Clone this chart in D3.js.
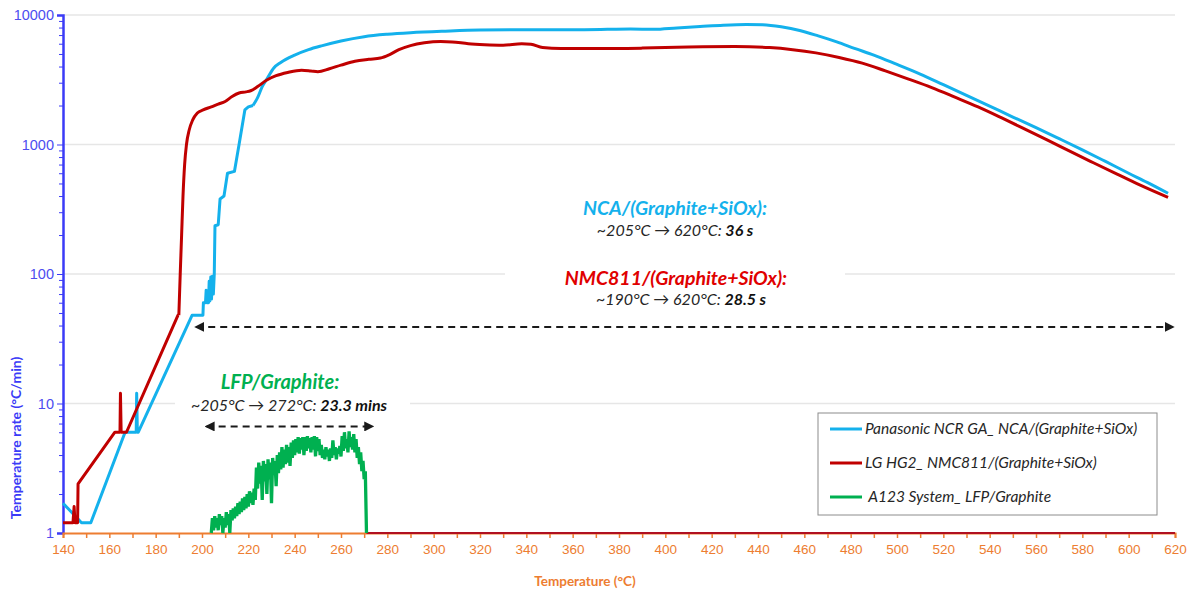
<!DOCTYPE html>
<html lang="en">
  <head>
    <meta charset="UTF-8" />
    <title>Temperature rate vs temperature</title>
    <script src="https://d3js.org/d3.v7.min.js"></script>
    <style>
      body { margin: 0; background: #fff; }
      svg { font-family: Lato, 'Open Sans', sans-serif; }
      .axis-y path, .axis-y line { stroke: #3b3bf7; }
      .axis-y text { fill: #4d4df0; font-size: 14.5px; }
      .axis-x path { stroke: #ed7d31; }
      .axis-x line { stroke: #ed7d31; }
      .axis-x text { fill: #ed7d31; font-size: 13.5px; }
    </style>
  </head>
  <body>
    <div id="chart"></div>
    <script>
      // tick values
      const xTicks = d3.range(140, 621, 20);
      const yTicks = [1, 10, 100, 1000, 10000];

      // Panasonic NCR GA  NCA/(Graphite+SiOx)  [temperature, rate]
      const ncaData = [
        [140, 1.7], [148, 1.2], [152, 1.2], [166.8, 6], [171.6, 6], [171.8, 12],
        [172.1, 6], [172.5, 6], [195.7, 48], [200.4, 48], [200.6, 60], [201.5, 60],
        [201.8, 75], [202.1, 60], [202.8, 60], [203.1, 88], [203.4, 62], [203.8, 95],
        [204.1, 64], [204.5, 96], [204.9, 70], [205.3, 100], [205.6, 236], [207, 240],
        [207.8, 380], [209.5, 400], [211, 600], [214, 620], [216, 1000], [218.5, 1850],
        [220, 1950], [222, 2000], [224, 2300], [226, 2800], [228, 3200], [231, 3900],
        [234, 4300], [240, 4900], [246, 5400], [252, 5800], [260, 6300], [270, 6800],
        [280, 7100], [290, 7300], [305, 7500], [320, 7650], [340, 7700], [360, 7700],
        [375, 7750], [385, 7800], [395, 7750], [405, 7950], [415, 8150], [425, 8350],
        [435, 8450], [442, 8400], [450, 8100], [458, 7600], [466, 6900], [474, 6200],
        [482, 5500], [490, 4900], [500, 4150], [510, 3500], [520, 2900], [530, 2400],
        [540, 1980], [550, 1630], [560, 1350], [570, 1110], [580, 910], [590, 740],
        [600, 600], [608, 510], [617, 420]
      ];

      // LG HG2  NMC811/(Graphite+SiOx)
      const nmcData = [
        [140, 1.2], [144.3, 1.2], [144.8, 1.6], [145.2, 1.2], [146.3, 1.2], [146.5, 2.4],
        [162.4, 6], [164.6, 6], [164.8, 12], [165.1, 6], [167.4, 6], [189.6, 48],
        [190, 48], [190.6, 100], [191.2, 200], [191.8, 400], [192.5, 700], [193.3, 1000],
        [194.5, 1300], [196, 1550], [198, 1750], [200.5, 1850], [204, 1950], [207, 2050],
        [210, 2150], [213, 2350], [216, 2500], [219, 2550], [221, 2600], [224, 2800],
        [228, 3150], [232, 3400], [237, 3600], [243, 3750], [247, 3700], [250, 3650],
        [255, 3850], [260, 4100], [266, 4400], [272, 4550], [277, 4650], [281, 4950],
        [285, 5400], [290, 5800], [296, 6100], [303, 6250], [308, 6200], [315, 6000],
        [322, 5900], [330, 5850], [338, 6000], [342, 5950], [347, 5600], [355, 5500],
        [370, 5500], [390, 5550], [410, 5650], [430, 5700], [445, 5600], [455, 5400],
        [465, 5100], [475, 4700], [485, 4250], [495, 3700], [505, 3200], [515, 2750],
        [525, 2320], [535, 1950], [545, 1610], [555, 1320], [565, 1080], [575, 880],
        [585, 720], [595, 590], [605, 485], [617, 390]
      ];
      // the same cell sits on the floor after the test
      const nmcFloor = [[271, 1], [620, 1]];

      // A123 System  LFP/Graphite (noisy)
      const lfpData = [
        [204, 1], [204.5, 1.3], [205, 1.05], [205.5, 1.35], [206, 1.1], [206.5, 1.3],
        [207, 1.05], [207.5, 1.4], [208, 1.15], [208.5, 1.35], [209, 1], [209.5, 1.3],
        [210, 1.1], [210.5, 1.45], [211, 1.15], [211.5, 1.4], [212, 1], [212.5, 1.5],
        [213, 1.25], [213.5, 1.55], [214, 1.3], [214.5, 1.6], [215, 1.35], [215.5, 1.7],
        [216, 1.4], [216.5, 1.75], [217, 1.45], [217.5, 1.85], [218, 1.5], [218.5, 1.9],
        [219, 1.55], [219.5, 2], [220, 1.6], [220.5, 2.1], [221, 1.7], [221.5, 2.05],
        [222, 1.65], [222.5, 2.2], [223, 1.8], [223.5, 3.2], [224, 2.2], [224.5, 3.5],
        [225, 2.4], [225.5, 3.3], [226, 1.8], [226.5, 3.6], [227, 2.5], [227.5, 3.4],
        [228, 2], [228.5, 3.7], [229, 2.6], [229.5, 3.5], [230, 1.7], [230.5, 3.8],
        [231, 2.8], [231.5, 3.6], [232, 2.3], [232.5, 4], [233, 2.9], [233.5, 4.2],
        [234, 3.1], [234.5, 4.6], [235, 3.2], [235.5, 4.4], [236, 3.4], [236.5, 4.8],
        [237, 3.5], [237.5, 4.6], [238, 3.3], [238.5, 5], [239, 3.8], [239.5, 5.2],
        [240, 4], [240.5, 5.3], [241, 4.2], [241.5, 5.5], [242, 4.1], [242.5, 5.4],
        [243, 4.4], [243.5, 5.5], [244, 4], [244.5, 5.5], [245, 4.3], [245.5, 5.6],
        [246, 4.5], [246.5, 5.4], [247, 4.2], [247.5, 5.5], [248, 4.4], [248.5, 5.6],
        [249, 3.9], [249.5, 5.5], [250, 4.3], [250.5, 5.3], [251, 4], [251.5, 4.8],
        [252, 3.8], [252.5, 4.4], [253, 3.7], [253.5, 4.6], [254, 3.9], [254.5, 4.4],
        [255, 3.6], [255.5, 4.5], [256, 3.8], [256.5, 5.2], [257, 4], [257.5, 4.6],
        [258, 3.7], [258.5, 4.5], [259, 4.1], [259.5, 4.7], [260, 3.9], [260.5, 5.6],
        [261, 4.3], [261.5, 6], [262, 4.5], [262.5, 5.3], [263, 4.2], [263.5, 6.1],
        [264, 4.6], [264.5, 5.5], [265, 4.4], [265.5, 5.8], [266, 4.2], [266.5, 5.3],
        [267, 3.8], [267.5, 4.6], [268, 3.4], [268.5, 4.2], [269, 3], [269.5, 3.6],
        [270, 2.6], [270.5, 3], [271, 1]
      ];

      const series = [
        { name: 'Panasonic NCR GA_ NCA/(Graphite+SiOx)', color: '#14b1ec', data: ncaData, knee: 222 },
        { name: 'LG HG2_ NMC811/(Graphite+SiOx)', color: '#c00000', data: nmcData, knee: 190 },
        { name: ' A123 System_ LFP/Graphite', color: '#00b050', data: lfpData }
      ];

      const W = 1195, H = 597;
      const margin = { top: 15, right: 20, bottom: 64, left: 63 };
      const width = W - margin.left - margin.right;
      const height = H - margin.top - margin.bottom;

      const svg = d3.select('#chart').append('svg')
        .attr('width', W).attr('height', H);
      const g = svg.append('g')
        .attr('transform', `translate(${margin.left},${margin.top})`);

      const x = d3.scaleLinear().domain([140, 620]).range([0, width]);
      const y = d3.scaleLog().domain([1, 10000]).range([height, 0]);

      // gridlines
      g.append('g').selectAll('line')
        .data(yTicks.slice(1))
        .enter().append('line')
        .attr('x1', 0).attr('x2', width)
        .attr('y1', d => y(d)).attr('y2', d => y(d))
        .attr('stroke', '#e6e6e6').attr('stroke-width', 1.5);

      // white boxes behind the annotation text (they hide the gridlines)
      g.append('rect').attr('x', 442).attr('y', 250).attr('width', 340).attr('height', 55).attr('fill', '#fff');
      g.append('rect').attr('x', 112).attr('y', 360).attr('width', 235).attr('height', 55).attr('fill', '#fff');

      // axes
      const minor = [];
      [1, 10, 100, 1000].forEach(d => { for (let k = 2; k < 10; k++) minor.push(d * k); });
      g.append('g').attr('class', 'axis-y')
        .call(d3.axisLeft(y).tickValues(minor).tickSize(4).tickFormat(''))
        .select('.domain').remove();
      g.append('g').attr('class', 'axis-y')
        .call(d3.axisLeft(y).tickValues(yTicks).tickSize(6).tickPadding(3).tickFormat(d3.format('d')))
        .select('.domain').attr('stroke-width', 2.5);

      const xAxis = g.append('g').attr('class', 'axis-x')
        .attr('transform', `translate(0,${height})`)
        .call(d3.axisBottom(x).tickValues(d3.range(140, 621, 10)).tickSize(5).tickPadding(6)
          .tickFormat(d => (xTicks.includes(d) ? d : '')));
      xAxis.select('.domain').attr('stroke-width', 2);
      xAxis.selectAll('.tick line').attr('stroke-width', 1.5)
        .attr('stroke', d => (d > 272 ? '#a5162a' : '#ed7d31'));

      // axis titles
      svg.append('text')
        .attr('x', 585).attr('y', 586)
        .attr('text-anchor', 'middle')
        .attr('fill', '#ed7d31').attr('font-size', 13.5).attr('font-weight', 'bold')
        .text('Temperature (°C)');
      svg.append('text')
        .attr('transform', 'translate(21,438) rotate(-90)')
        .attr('text-anchor', 'middle')
        .attr('fill', '#3b3bf7').attr('font-size', 14).attr('font-weight', 'bold')
        .text('Temperature rate (°C/min)');

      // lines
      const plot = g.append('g');
      const smooth = d3.line().x(d => x(d[0])).y(d => y(d[1])).curve(d3.curveMonotoneX);
      const straight = d3.line().x(d => x(d[0])).y(d => y(d[1]));

      plot.append('path').datum(nmcFloor)
        .attr('d', straight).attr('fill', 'none')
        .attr('stroke', '#b01020').attr('stroke-width', 2);
      plot.append('path').datum(lfpData)
        .attr('d', straight).attr('fill', 'none')
        .attr('stroke', '#00b050').attr('stroke-width', 3.3).attr('stroke-linejoin', 'miter');

      // stepped start is straight, the upper part is a smooth curve
      series.slice(0, 2).forEach(s => {
        const early = s.data.filter(d => d[0] <= s.knee);
        const late = s.data.filter(d => d[0] >= s.knee);
        plot.append('path').datum(early)
          .attr('d', straight).attr('fill', 'none')
          .attr('stroke', s.color).attr('stroke-width', 3).attr('stroke-linejoin', 'round');
        plot.append('path').datum(late)
          .attr('d', smooth).attr('fill', 'none')
          .attr('stroke', s.color).attr('stroke-width', 3).attr('stroke-linejoin', 'round');
      });

      // arrow markers
      const defs = svg.append('defs');
      defs.append('marker').attr('id', 'head')
        .attr('viewBox', '0 0 10 10').attr('refX', 8).attr('refY', 5)
        .attr('markerWidth', 5).attr('markerHeight', 5)
        .attr('orient', 'auto-start-reverse')
        .append('path').attr('d', 'M0,0 L10,5 L0,10 z').attr('fill', '#1a1a1a');

      function dashedArrow(t1, t2, v) {
        g.append('line')
          .attr('x1', x(t1)).attr('x2', x(t2))
          .attr('y1', y(v)).attr('y2', y(v))
          .attr('stroke', '#1a1a1a').attr('stroke-width', 2)
          .attr('stroke-dasharray', '7,5')
          .attr('marker-start', 'url(#head)').attr('marker-end', 'url(#head)');
      }
      dashedArrow(197.5, 619, 39);
      dashedArrow(202, 273.5, 6.65);

      // annotation text
      function label(cx, cy, color, text, size) {
        svg.append('text').attr('x', cx).attr('y', cy)
          .attr('text-anchor', 'middle').attr('fill', color)
          .attr('font-size', size).attr('font-style', 'italic').attr('font-weight', 'bold')
          .text(text);
      }
      function detail(cx, cy, plain, bold) {
        const t = svg.append('text').attr('x', cx).attr('y', cy)
          .attr('text-anchor', 'middle').attr('fill', '#262626')
          .attr('font-size', 16).attr('font-style', 'italic');
        t.append('tspan').text(plain);
        t.append('tspan').attr('font-weight', 'bold').attr('fill', '#111').text(bold);
      }
      label(675, 215, '#14b1ec', 'NCA/(Graphite+SiOx):', 19.5);
      detail(675, 236, '~205°C \u2192 620°C: ', '36 s');
      label(676, 285, '#e00000', 'NMC811/(Graphite+SiOx):', 19.5);
      detail(681, 305, '~190°C \u2192 620°C: ', '28.5 s');
      label(280, 389, '#00b050', 'LFP/Graphite:', 20);
      detail(289, 411, '~205°C \u2192 272°C: ', '23.3 mins');

      // legend
      const lg = svg.append('g').attr('transform', 'translate(818,413)');
      lg.append('rect').attr('width', 339).attr('height', 102)
        .attr('fill', '#fff').attr('stroke', '#8c8c8c').attr('stroke-width', 1);
      series.forEach((s, i) => {
        const yy = 16 + i * 34;
        lg.append('line').attr('x1', 12).attr('x2', 44)
          .attr('y1', yy).attr('y2', yy)
          .attr('stroke', s.color).attr('stroke-width', 3);
        lg.append('text').attr('x', 47).attr('y', yy + 5)
          .attr('fill', '#262626').attr('font-size', 15.5).attr('font-style', 'italic')
          .attr('xml:space', 'preserve').style('white-space', 'pre')
          .text(s.name);
      });
    </script>
  </body>
</html>
